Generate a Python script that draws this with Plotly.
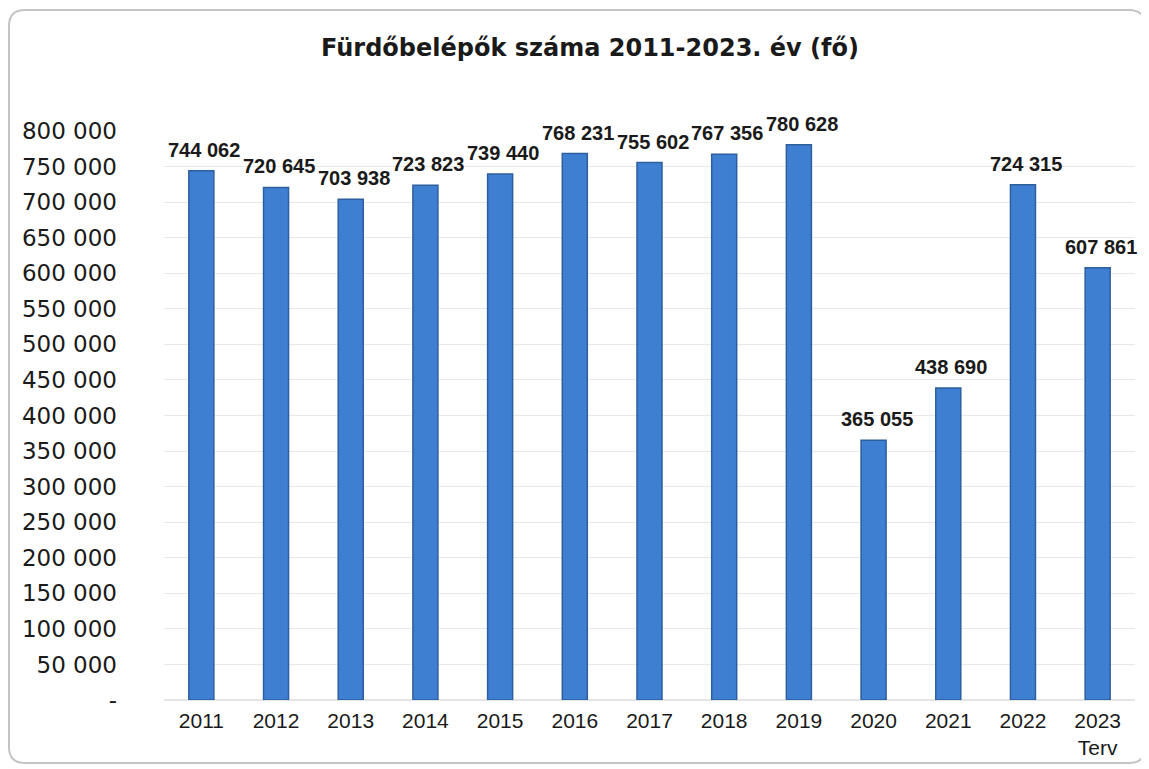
import plotly.graph_objects as go

years = ["2011", "2012", "2013", "2014", "2015", "2016", "2017", "2018", "2019", "2020", "2021", "2022", "2023<br>Terv"]
visitors = [744062, 720645, 703938, 723823, 739440, 768231, 755602, 767356, 780628, 365055, 438690, 724315, 607861]
ytick_vals = list(range(0, 800001, 50000))
ytick_text = ["-"] + [f"{v:,}".replace(",", " ") for v in ytick_vals[1:]]
labels = [f"{v:,}".replace(",", " ") for v in visitors]
title = "Fürdőbelépők száma 2011-2023. év (fő)"

# figure geometry (pixels)
W, H = 1141, 761
L, R, T, B = 156, 14, 123, 69
PW, PH = W - L - R, H - T - B


def px(x, y):
    return (x - L) / PW, (H - B - y) / PH


fig = go.Figure(go.Bar(
    x=years, y=visitors,
    marker=dict(color="#3f7fd2", line=dict(color="#2d5f9f", width=1.5)),
    width=0.335,
))

# value labels (category index position on the category axis)
for i, (v, lab) in enumerate(zip(visitors, labels)):
    fig.add_annotation(x=i, y=v, xref="x", yref="y", text=f"<b>{lab}</b>", showarrow=False,
                       yshift=21, xshift=3, yanchor="middle", xanchor="center",
                       font=dict(family="Liberation Sans, Arial", size=20, color="#1a1a1a"))

# rounded frame around the chart
x0, y0, x1, y1, rr = 1, 2, 1137, 755, 16
a = px(x0, y0); b = px(x1, y1)
rx, ry = rr / PW, rr / PH
path = (f"M {a[0]+rx},{a[1]} L {b[0]-rx},{a[1]} Q {b[0]},{a[1]} {b[0]},{a[1]-ry} "
        f"L {b[0]},{b[1]+ry} Q {b[0]},{b[1]} {b[0]-rx},{b[1]} "
        f"L {a[0]+rx},{b[1]} Q {a[0]},{b[1]} {a[0]},{b[1]+ry} "
        f"L {a[0]},{a[1]-ry} Q {a[0]},{a[1]} {a[0]+rx},{a[1]} Z")

fig.update_layout(
    width=W, height=H,
    paper_bgcolor="white", plot_bgcolor="white",
    margin=dict(l=L, r=R, t=T, b=B),
    title=dict(text=f"<b>{title}</b>", x=582 / W, xanchor="center", y=1 - 40 / H, yanchor="middle",
               font=dict(family="DejaVu Sans", size=24, color="#1a1a1a")),
    font=dict(family="Liberation Sans, Arial", color="#1a1a1a"),
    showlegend=False,
    xaxis=dict(type="category", categoryorder="array", categoryarray=years,
               range=[-0.5, len(years) - 0.5], autorange=False, automargin=False,
               tickfont=dict(family="Liberation Sans, Arial", size=21), showgrid=False, showline=False,
               ticks="", ticklabelstandoff=6),
    yaxis=dict(range=[0, 800000], tickvals=ytick_vals, ticktext=ytick_text, automargin=False,
               tickfont=dict(family="DejaVu Sans", size=23), gridcolor="#e8e8e8", gridwidth=1,
               zeroline=True, zerolinecolor="#e4e4e4", ticks="", ticklabelstandoff=46),
    shapes=[dict(type="path", xref="paper", yref="paper", path=path,
                 line=dict(color="#c4c4c4", width=2), layer="below")],
)

fig.write_html("out.html")
